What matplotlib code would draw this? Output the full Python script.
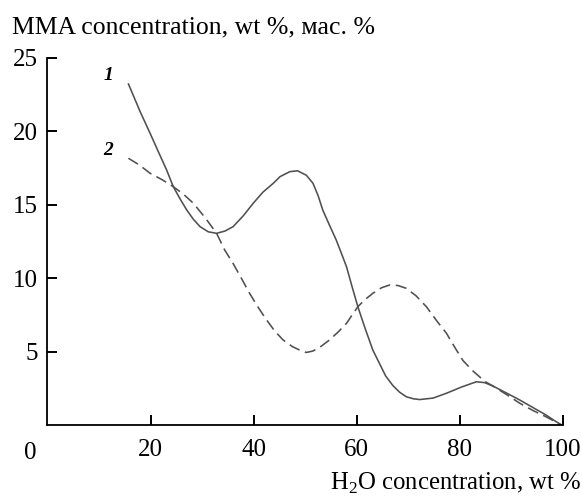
import matplotlib
matplotlib.use("Agg")
import matplotlib.pyplot as plt

plt.rcParams["font.family"] = ["Liberation Serif", "DejaVu Serif"]
plt.rcParams["mathtext.fontset"] = "custom"
plt.rcParams["mathtext.rm"] = "Liberation Serif"

LINE_C = "#505050"

# curve 1 (solid)
x1 = [15.7, 18.0, 19.9, 21.5, 23.1, 24.4, 25.7, 27.0, 28.3, 29.6, 31.2, 32.8,
      34.4, 36.0, 38.0, 39.9, 41.8, 43.8, 45.1, 47.0, 48.5, 50.2, 51.5, 52.5,
      53.4, 54.7, 56.0, 57.0, 58.0, 59.1, 60.2, 61.6, 63.1, 64.4, 65.6, 67.0,
      68.3, 69.6, 71.0, 72.2, 74.8, 77.4, 80.3, 83.2, 84.8, 86.4, 89.0, 91.6,
      94.2, 96.7, 98.2, 99.8]
y1 = [23.2, 21.3, 19.85, 18.6, 17.36, 16.22, 15.4, 14.64, 14.0, 13.5, 13.15, 13.05,
      13.2, 13.5, 14.25, 15.09, 15.85, 16.45, 16.9, 17.24, 17.3, 17.0, 16.45, 15.6,
      14.63, 13.6, 12.6, 11.7, 10.78, 9.4, 8.06, 6.6, 5.12, 4.2, 3.35, 2.7,
      2.25, 1.94, 1.8, 1.75, 1.85, 2.18, 2.6, 2.96, 2.9, 2.67, 2.2, 1.72,
      1.2, 0.7, 0.35, 0.0]

# curve 2 (dashed)
x2 = [15.7, 17.8, 19.9, 22.2, 24.4, 26.4, 28.3, 30.6, 32.8, 34.4, 36.0, 37.6,
      39.2, 40.9, 42.5, 44.1, 45.7, 47.5, 49.0, 50.2, 51.5, 53.0, 54.7, 56.4,
      58.0, 59.1, 60.2, 61.6, 63.1, 64.8, 66.4, 68.0, 69.6, 71.5, 73.5, 75.5,
      77.4, 79.0, 80.6, 82.5, 83.8, 85.0, 86.4, 89.0, 91.6, 94.2, 96.7, 98.2, 99.8]
y2 = [18.15, 17.7, 17.13, 16.7, 16.22, 15.7, 15.09, 14.1, 13.05, 11.9, 11.0, 10.0,
      8.97, 8.0, 7.16, 6.4, 5.8, 5.35, 5.1, 4.95, 5.05, 5.35, 5.8, 6.35,
      6.93, 7.5, 8.06, 8.55, 8.97, 9.35, 9.54, 9.5, 9.31, 8.8, 8.06, 7.1,
      6.25, 5.3, 4.4, 3.7, 3.3, 2.95, 2.67, 2.1, 1.5, 1.0, 0.58, 0.3, 0.0]

xticks = [20, 40, 60, 80, 100]
yticks = [5, 10, 15, 20, 25]

fig = plt.figure(figsize=(5.82, 5.0), dpi=100)
ax = fig.add_axes([0.0816, 0.1494, 0.8858, 0.7356])

ax.plot(x1, y1, "-", color=LINE_C, lw=1.15)
ax.plot(x2, y2, color=LINE_C, lw=1.15, dashes=(7, 3.5))

ax.text(11.8, 23.8, "1", fontsize=14, style="italic", weight="bold", ha="center", va="center")
ax.text(11.8, 18.7, "2", fontsize=14, style="italic", weight="bold", ha="center", va="center")

ax.set_xlim(0, 100)
ax.set_ylim(0, 25)
ax.set_xticks(xticks)
ax.set_yticks(yticks)
ax.tick_params(direction="in", length=7, width=1.4, labelsize=18, pad=10)
ax.tick_params(axis="y", pad=7)
for s in ("top", "right"):
    ax.spines[s].set_visible(False)
for s in ("left", "bottom"):
    ax.spines[s].set_linewidth(1.3)

fig.text(30 / 582, 1 - 442 / 500, "0", fontsize=18, ha="center", va="top")
fig.text(12 / 582, 1 - 33 / 500, "MMA concentration, wt %, мас. %", fontsize=18.5,
         ha="left", va="baseline")
fig.text(581 / 582, 1 - 490 / 500, "H$_2$O concentration, wt %", fontsize=17.8,
         ha="right", va="baseline")

fig.savefig("out.png", dpi=100)
